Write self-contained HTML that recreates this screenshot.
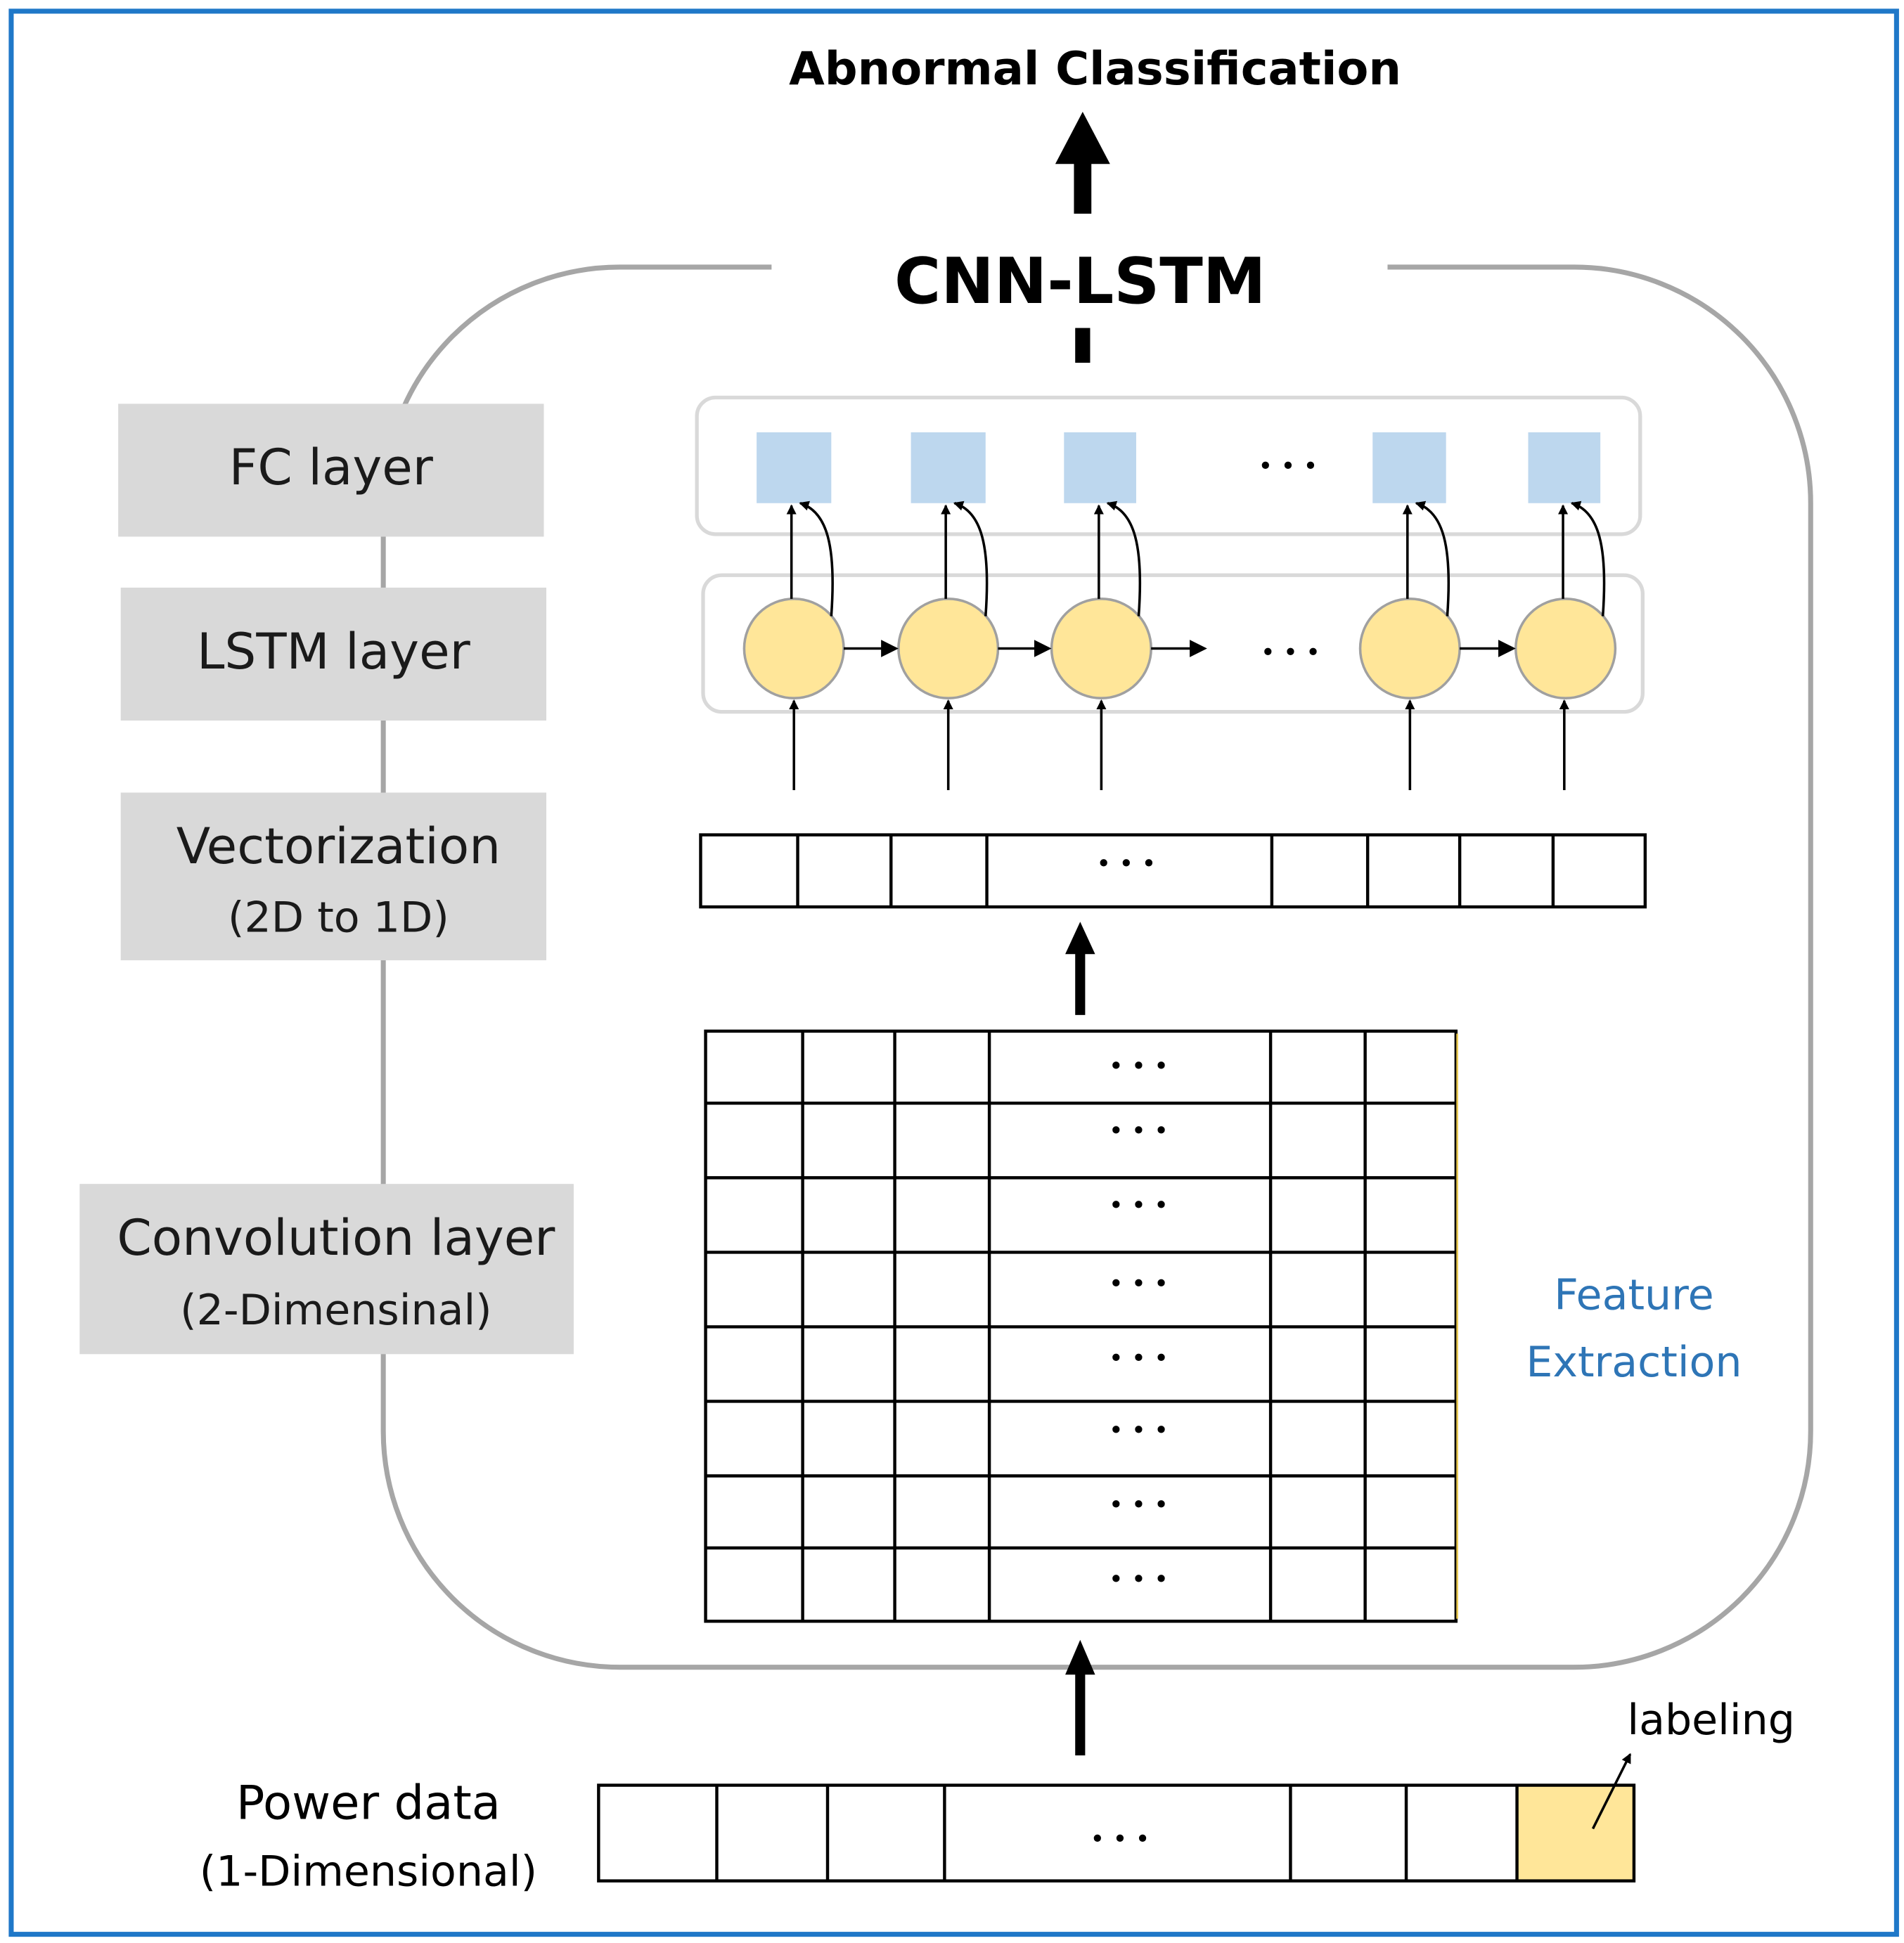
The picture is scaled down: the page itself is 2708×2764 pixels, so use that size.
<!DOCTYPE html>
<html><head><meta charset="utf-8"><style>
html,body{margin:0;padding:0;background:#fff;}
svg{display:block;}
text{font-family:"DejaVu Sans","Liberation Sans",sans-serif;}
</style></head><body>
<svg width="2708" height="2764" viewBox="0 0 1530 1564" preserveAspectRatio="none" xmlns="http://www.w3.org/2000/svg">
<defs>
<marker id="ah" markerWidth="8" markerHeight="8" refX="7" refY="4" orient="auto" markerUnits="userSpaceOnUse"><path d="M0,0 L8,4 L0,8 z" fill="#000"/></marker>
<marker id="ah2" markerWidth="14" markerHeight="14" refX="12" refY="7" orient="auto" markerUnits="userSpaceOnUse"><path d="M0,0 L14,7 L0,14 z" fill="#000"/></marker>
</defs>
<rect x="0" y="0" width="1530" height="1564" fill="#fff"/>
<rect x="9" y="9" width="1515" height="1548" fill="none" stroke="#1f78c8" stroke-width="4"/>
<text x="880" y="68" font-size="37" font-weight="bold" text-anchor="middle">Abnormal Classification</text>
<rect x="863" y="128" width="14" height="44" fill="#000"/>
<path d="M848,132 L870,90 L892,132 z" fill="#000"/>
<path d="M620,215 L498,215 A190,190 0 0 0 308,405 L308,1152 A190,190 0 0 0 498,1342 L1265,1342 A190,190 0 0 0 1455,1152 L1455,405 A190,190 0 0 0 1265,215 L1115,215" fill="none" stroke="#a6a6a6" stroke-width="4"/>
<text x="868" y="244" font-size="51" font-weight="bold" text-anchor="middle">CNN-LSTM</text>
<rect x="864" y="264" width="12" height="28" fill="#000"/>
<rect x="560" y="320" width="758" height="110" rx="15" fill="#fff" stroke="#d9d9d9" stroke-width="3"/>
<g fill="#bdd7ee">
<rect x="608" y="348" width="60" height="57"/><rect x="732" y="348" width="60" height="57"/><rect x="855" y="348" width="58" height="57"/><rect x="1103" y="348" width="59" height="57"/><rect x="1228" y="348" width="58" height="57"/>
</g>
<g font-size="20" text-anchor="middle">
<text x="1035" y="382">• • •</text>
<text x="1037" y="532">• • •</text>
<text x="905" y="702">• • •</text>
<text x="915" y="865">• • •</text><text x="915" y="917">• • •</text><text x="915" y="977">• • •</text><text x="915" y="1040">• • •</text><text x="915" y="1100">• • •</text><text x="915" y="1158">• • •</text><text x="915" y="1218">• • •</text><text x="915" y="1278">• • •</text>
<text x="900" y="1487">• • •</text>
</g>
<rect x="565" y="463" width="755" height="110" rx="15" fill="#fff" stroke="#d9d9d9" stroke-width="3"/>
<g fill="#ffe699" stroke="#a0a0a0" stroke-width="2">
<circle cx="638" cy="522" r="40"/><circle cx="762" cy="522" r="40"/><circle cx="885" cy="522" r="40"/><circle cx="1133" cy="522" r="40"/><circle cx="1258" cy="522" r="40"/>
</g>
<text x="1037" y="532" font-size="20" text-anchor="middle">• • •</text>
<g stroke="#000" stroke-width="2" fill="none" marker-end="url(#ah2)">
<line x1="678" y1="522" x2="720" y2="522"/><line x1="802" y1="522" x2="843" y2="522"/><line x1="925" y1="522" x2="968" y2="522"/><line x1="1173" y1="522" x2="1216" y2="522"/>
</g>
<g stroke="#000" stroke-width="2" fill="none" marker-end="url(#ah)">
<line x1="638" y1="636" x2="638" y2="564"/><line x1="762" y1="636" x2="762" y2="564"/><line x1="885" y1="636" x2="885" y2="564"/><line x1="1133" y1="636" x2="1133" y2="564"/><line x1="1257" y1="636" x2="1257" y2="564"/>
<line x1="636" y1="482" x2="636" y2="407"/><line x1="760" y1="482" x2="760" y2="407"/><line x1="883" y1="482" x2="883" y2="407"/><line x1="1131" y1="482" x2="1131" y2="407"/><line x1="1256" y1="482" x2="1256" y2="407"/>
<path d="M668,496 C672,440 665,412 643,405"/><path d="M792,496 C796,440 789,412 767,405"/><path d="M915,496 C919,440 912,412 890,405"/><path d="M1163,496 C1167,440 1160,412 1138,405"/><path d="M1288,496 C1292,440 1285,412 1263,405"/>
</g>
<rect x="563" y="672" width="759" height="58" fill="none" stroke="#000" stroke-width="2.5"/>
<g stroke="#000" stroke-width="2.5">
<line x1="641" y1="672" x2="641" y2="730"/><line x1="716" y1="672" x2="716" y2="730"/><line x1="793" y1="672" x2="793" y2="730"/><line x1="1022" y1="672" x2="1022" y2="730"/><line x1="1099" y1="672" x2="1099" y2="730"/><line x1="1173" y1="672" x2="1173" y2="730"/><line x1="1248" y1="672" x2="1248" y2="730"/>
</g>
<rect x="864" y="765" width="8" height="52" fill="#000"/>
<path d="M856,768 L868,742 L880,768 z" fill="#000"/>
<g stroke="#000" stroke-width="2.5" fill="none">
<rect x="567" y="830" width="603" height="475"/>
<line x1="567" y1="888" x2="1170" y2="888"/><line x1="567" y1="948" x2="1170" y2="948"/><line x1="567" y1="1008" x2="1170" y2="1008"/><line x1="567" y1="1068" x2="1170" y2="1068"/><line x1="567" y1="1128" x2="1170" y2="1128"/><line x1="567" y1="1188" x2="1170" y2="1188"/><line x1="567" y1="1246" x2="1170" y2="1246"/>
<line x1="645" y1="830" x2="645" y2="1305"/><line x1="719" y1="830" x2="719" y2="1305"/><line x1="795" y1="830" x2="795" y2="1305"/><line x1="1021" y1="830" x2="1021" y2="1305"/><line x1="1097" y1="830" x2="1097" y2="1305"/>
</g>
<line x1="1171" y1="832" x2="1171" y2="1303" stroke="#e8c850" stroke-width="1.5"/>
<text x="1313" y="1054" font-size="34" fill="#2e75b6" text-anchor="middle">Feature</text>
<text x="1313" y="1108" font-size="34" fill="#2e75b6" text-anchor="middle">Extraction</text>
<rect x="864" y="1345" width="8" height="68" fill="#000"/>
<path d="M856,1348 L868,1320 L880,1348 z" fill="#000"/>
<rect x="1219" y="1437" width="94" height="77" fill="#ffe699"/>
<rect x="481" y="1437" width="832" height="77" fill="none" stroke="#000" stroke-width="2.5"/>
<g stroke="#000" stroke-width="2.5">
<line x1="576" y1="1437" x2="576" y2="1514"/><line x1="665" y1="1437" x2="665" y2="1514"/><line x1="759" y1="1437" x2="759" y2="1514"/><line x1="1037" y1="1437" x2="1037" y2="1514"/><line x1="1130" y1="1437" x2="1130" y2="1514"/><line x1="1219" y1="1437" x2="1219" y2="1514"/>
</g>
<line x1="1280" y1="1472" x2="1310" y2="1412" stroke="#000" stroke-width="2" marker-end="url(#ah)"/>
<text x="1375" y="1396" font-size="34" text-anchor="middle">labeling</text>
<text x="296" y="1464" font-size="38" text-anchor="middle">Power data</text>
<text x="296" y="1518" font-size="34" text-anchor="middle">(1-Dimensional)</text>
<g fill="#d9d9d9">
<rect x="95" y="325" width="342" height="107"/><rect x="97" y="473" width="342" height="107"/><rect x="97" y="638" width="342" height="135"/><rect x="64" y="953" width="397" height="137"/>
</g>
<g text-anchor="middle" fill="#1a1a1a">
<text x="266" y="390" font-size="40">FC layer</text>
<text x="268" y="538" font-size="40">LSTM layer</text>
<text x="272" y="695" font-size="40">Vectorization</text>
<text x="272" y="750" font-size="34">(2D to 1D)</text>
<text x="270" y="1010" font-size="40">Convolution layer</text>
<text x="270" y="1066" font-size="34">(2-Dimensinal)</text>
</g>
</svg>
</body></html>
